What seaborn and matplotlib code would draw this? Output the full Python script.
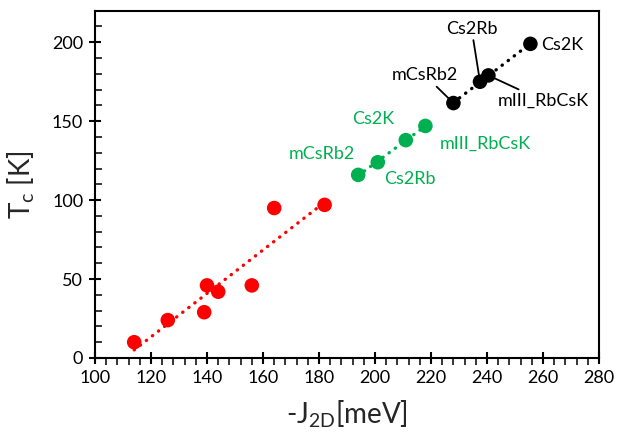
import matplotlib
matplotlib.use('Agg')
import matplotlib.pyplot as plt
from matplotlib.ticker import MultipleLocator
import seaborn as sns
import pandas as pd

# ---- data ----
red_x = [114, 126, 139, 140, 144, 156, 164, 182]
red_y = [10, 24, 29, 46, 42, 46, 95, 97]

green_x = [194, 201, 211, 218]
green_y = [116, 124, 138, 147]
green_labels = ['mCsRb2', 'Cs2Rb', 'Cs2K', 'mIII_RbCsK']
green_label_pos = [(181, 129.5), (212.5, 113.5), (199.4, 151.5), (239.3, 136)]

black_x = [228, 237.5, 240.5, 255.5]
black_y = [161.5, 175, 179, 199]
black_labels = ['mCsRb2', 'Cs2Rb', 'mIII_RbCsK', 'Cs2K']
black_label_pos = [(217.9, 179), (234.5, 208.5), (260, 163), (259.3, 198)]
black_label_leader = [True, True, True, False]

x_ticks = [100, 120, 140, 160, 180, 200, 220, 240, 260, 280]
y_ticks = [0, 50, 100, 150, 200]

RED = '#FF0000'
GREEN = '#00B050'
BLACK = '#000000'

sns.set_theme(style='white')
plt.rcParams['font.family'] = ['Lato', 'DejaVu Sans']
plt.rcParams['mathtext.fontset'] = 'custom'
plt.rcParams['mathtext.rm'] = 'Lato'
plt.rcParams['mathtext.it'] = 'Lato'

fig = plt.figure(figsize=(6.17, 4.32), dpi=100)
ax = fig.add_axes([95/617, 1 - 358/432, (599 - 95)/617, (358 - 10.7)/432])

dotted = dict(linestyle=(0, (0.1, 2.2)), linewidth=2.4, dash_capstyle='round')

groups = [
    (pd.DataFrame({'x': red_x, 'y': red_y}), RED),
    (pd.DataFrame({'x': green_x, 'y': green_y}), GREEN),
    (pd.DataFrame({'x': black_x, 'y': black_y}), BLACK),
]
for df, col in groups:
    sns.regplot(data=df, x='x', y='y', ax=ax, scatter=False, ci=None,
                color=col, line_kws=dotted)
    sns.scatterplot(data=df, x='x', y='y', ax=ax, color=col, s=110,
                    edgecolor='none', zorder=3)

LAB_FS = 13
for lab, (tx, ty) in zip(green_labels, green_label_pos):
    ax.text(tx, ty, lab, color=GREEN, fontsize=LAB_FS, ha='center', va='center')

for i, (lab, (tx, ty), lead) in enumerate(zip(black_labels, black_label_pos, black_label_leader)):
    if lead:
        ax.annotate(lab, xy=(black_x[i], black_y[i]), xytext=(tx, ty),
                    color=BLACK, fontsize=LAB_FS, ha='center', va='center',
                    arrowprops=dict(arrowstyle='-', color=BLACK, lw=1.3,
                                    shrinkA=0, shrinkB=0))
    else:
        ax.text(tx, ty, lab, color=BLACK, fontsize=LAB_FS, ha='left', va='center')

ax.set_xlim(100, 280)
ax.set_ylim(0, 220)
ax.set_xticks(x_ticks)
ax.set_yticks(y_ticks)
ax.xaxis.set_minor_locator(MultipleLocator(4))
ax.yaxis.set_minor_locator(MultipleLocator(10))

for s in ax.spines.values():
    s.set_visible(True)
    s.set_color('black')
    s.set_linewidth(1.5)

ax.tick_params(axis='both', which='major', direction='inout', length=9,
               width=1.5, colors='black', labelsize=13, pad=4,
               bottom=True, left=True, top=False, right=False)
ax.tick_params(axis='y', which='minor', direction='in', length=5, width=1.3,
               left=True, right=False)
ax.tick_params(axis='x', which='minor', direction='out', length=5, width=1.3,
               bottom=True, top=False)

ax.set_xlabel(r'-J$_{\mathrm{2D}}$[meV]', fontsize=20, labelpad=9)
ax.set_ylabel(r'T$_{\mathrm{c}}$ [K]', fontsize=20, labelpad=11)

fig.savefig('out.png', dpi=100)
